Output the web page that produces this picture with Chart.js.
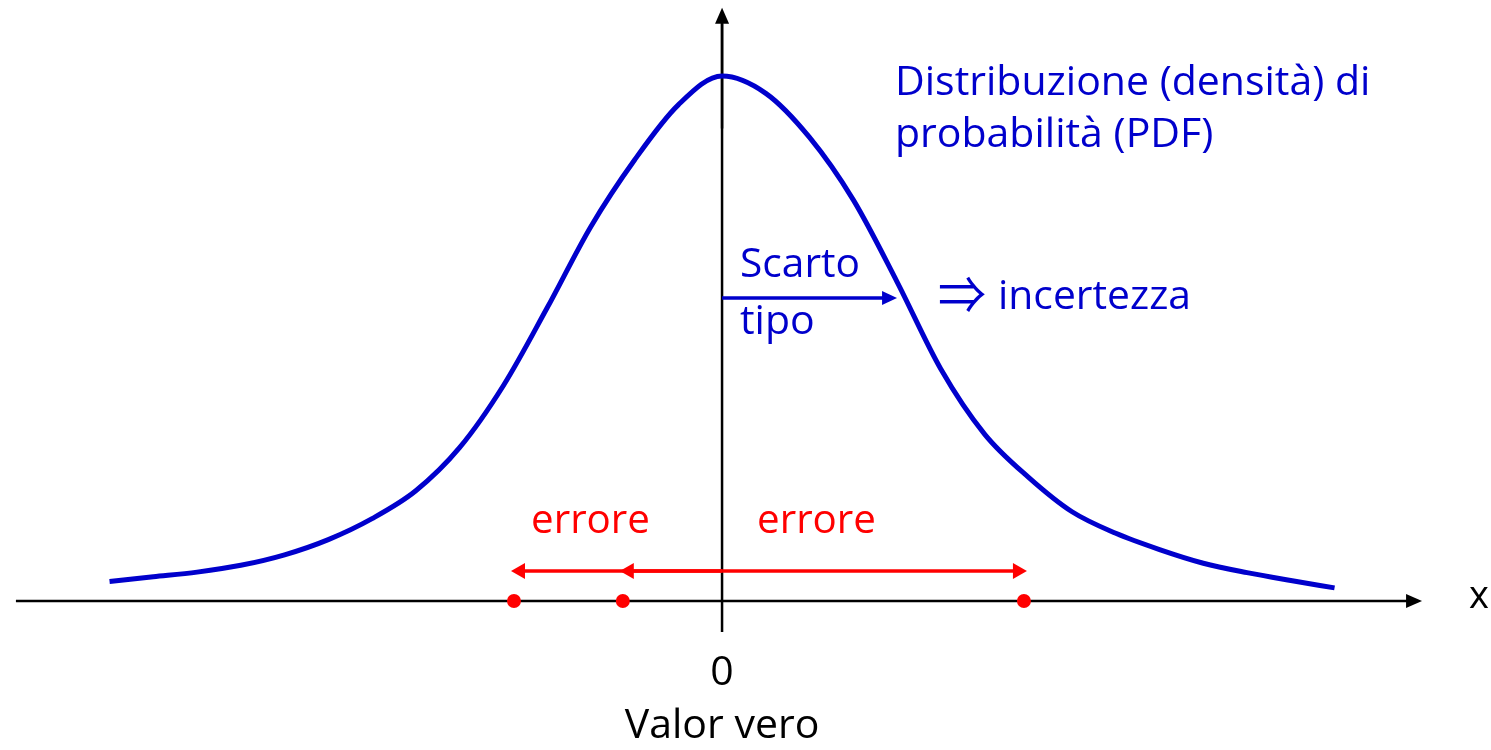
<!DOCTYPE html>
<html>
<head>
<meta charset="utf-8">
<script src="https://cdn.jsdelivr.net/npm/chart.js@4/dist/chart.umd.min.js"></script>
<style>
  html, body { margin: 0; padding: 0; background: #fff; }
  #wrap { width: 1491px; height: 750px; }
</style>
</head>
<body>
<div id="wrap"><canvas id="pdfChart" width="1491" height="750"></canvas></div>
<script>
// curve, x in units of the standard deviation, y relative to the peak
const curveX = [-3.5, -3.25, -3.0, -2.75, -2.5, -2.25, -2.0, -1.75, -1.5, -1.25, -1.0, -0.75, -0.5, -0.25, 0,
    0.25, 0.5, 0.75, 1.0, 1.25, 1.5, 1.75, 2.0, 2.25, 2.5, 2.75, 3.0, 3.25, 3.5];
const curveY = [0.037, 0.046, 0.055, 0.068, 0.088, 0.117, 0.157, 0.210, 0.292, 0.410, 0.558, 0.713, 0.840, 0.945, 1.0,
    0.967, 0.883, 0.764, 0.608, 0.442, 0.318, 0.236, 0.170, 0.129, 0.098, 0.072, 0.054, 0.039, 0.025];
const measurements = [-1.189, -0.567, 1.725];   // red points on the axis
const trueValue = 0;
const sigma = 1;

const blue = "#0000CC";
const red = "#FF0000";
const font = "'Open Sans', 'Noto Sans', sans-serif";

function arrow(ctx, x1, y1, x2, y2, color, width, headLen, headHalf) {
    const ang = Math.atan2(y2 - y1, x2 - x1);
    ctx.save();
    ctx.strokeStyle = color;
    ctx.fillStyle = color;
    ctx.lineWidth = width;
    ctx.beginPath();
    ctx.moveTo(x1, y1);
    ctx.lineTo(x2 - Math.cos(ang) * headLen * 0.8, y2 - Math.sin(ang) * headLen * 0.8);
    ctx.stroke();
    ctx.translate(x2, y2);
    ctx.rotate(ang);
    ctx.beginPath();
    ctx.moveTo(0, 0);
    ctx.lineTo(-headLen, -headHalf);
    ctx.lineTo(-headLen, headHalf);
    ctx.closePath();
    ctx.fill();
    ctx.restore();
}

function label(ctx, text, x, y, size, color, align, maxW, family) {
    ctx.save();
    ctx.font = size + "px " + (family || font);
    ctx.fillStyle = color;
    ctx.textAlign = align || "left";
    ctx.textBaseline = "alphabetic";
    if (maxW) ctx.fillText(text, x, y, maxW);
    else ctx.fillText(text, x, y);
    ctx.restore();
}

const sketch = {
    id: "sketch",
    beforeDatasetsDraw(chart) {
        const ctx = chart.ctx;
        const xs = chart.scales.x, ys = chart.scales.y;
        const y0 = ys.getPixelForValue(0);
        const x0 = xs.getPixelForValue(trueValue);
        // axes
        ctx.save();
        ctx.strokeStyle = "#000";
        ctx.lineWidth = 2.5;
        ctx.beginPath();
        ctx.moveTo(x0, ys.getPixelForValue(-0.059));
        ctx.lineTo(x0, ys.getPixelForValue(1.10));
        ctx.stroke();
        ctx.restore();
        arrow(ctx, xs.getPixelForValue(-4.035), y0, xs.getPixelForValue(4.0), y0, "#000", 2.5, 16, 7);
        arrow(ctx, x0, ys.getPixelForValue(0.9), x0, ys.getPixelForValue(1.130), "#000", 2.5, 16, 7);
        // error arrows
        const ya = ys.getPixelForValue(0.057);
        measurements.forEach(m => {
            const tip = xs.getPixelForValue(m) + (m < 0 ? -3 : 3);
            arrow(ctx, x0, ya, tip, ya, red, 3.5, 14, 8);
        });
    },
    afterDatasetsDraw(chart) {
        const ctx = chart.ctx;
        const xs = chart.scales.x, ys = chart.scales.y;
        const x0 = xs.getPixelForValue(trueValue);
        const ySig = ys.getPixelForValue(0.577);
        arrow(ctx, x0, ySig, xs.getPixelForValue(sigma), ySig, blue, 3.5, 15, 7);

        label(ctx, "Distribuzione (densità) di", 895, 95, 41, blue, "left", 488);
        label(ctx, "probabilità (PDF)", 895, 147, 41, blue, "left", 327);
        label(ctx, "Scarto", 740, 277, 41, blue, "left", 120);
        label(ctx, "tipo", 740, 334, 41, blue, "left", 77);
        label(ctx, "\u21D2", 938, 314, 52, blue, "left", 48, "'Noto Sans CJK JP', 'DejaVu Sans', sans-serif");
        label(ctx, "incertezza", 998, 309, 41, blue, "left", 193);
        label(ctx, "errore", 531, 533, 41, red, "left", 119);
        label(ctx, "errore", 757, 533, 41, red, "left", 119);
        label(ctx, "0", x0, 685, 41, "#000", "center");
        label(ctx, "Valor vero", x0, 738, 41, "#000", "center", 196);
        label(ctx, "x", 1479, 608, 38, "#000", "center");
    }
};

const ctx = document.getElementById("pdfChart").getContext("2d");
const chart = new Chart(ctx, {
    type: "scatter",
    data: {
        datasets: [{
            label: "PDF",
            data: curveX.map((x, i) => ({ x: x, y: curveY[i] })),
            showLine: true,
            borderColor: blue,
            borderWidth: 5,
            cubicInterpolationMode: "monotone",
            pointRadius: 0,
            fill: false
        }, {
            label: "misure",
            data: measurements.map(m => ({ x: m, y: 0 })),
            pointRadius: 7,
            pointBackgroundColor: red,
            pointBorderWidth: 0,
            borderColor: red
        }]
    },
    options: {
        responsive: false,
        devicePixelRatio: 1,
        animation: false,
        layout: { padding: 0, autoPadding: false },
        plugins: {
            legend: { display: false },
            tooltip: { enabled: false }
        },
        scales: {
            x: { type: "linear", min: -4.126, max: 4.394, display: false },
            y: { type: "linear", min: -0.2838, max: 1.1448, display: false }
        }
    },
    plugins: [sketch]
});
</script>
</body>
</html>
